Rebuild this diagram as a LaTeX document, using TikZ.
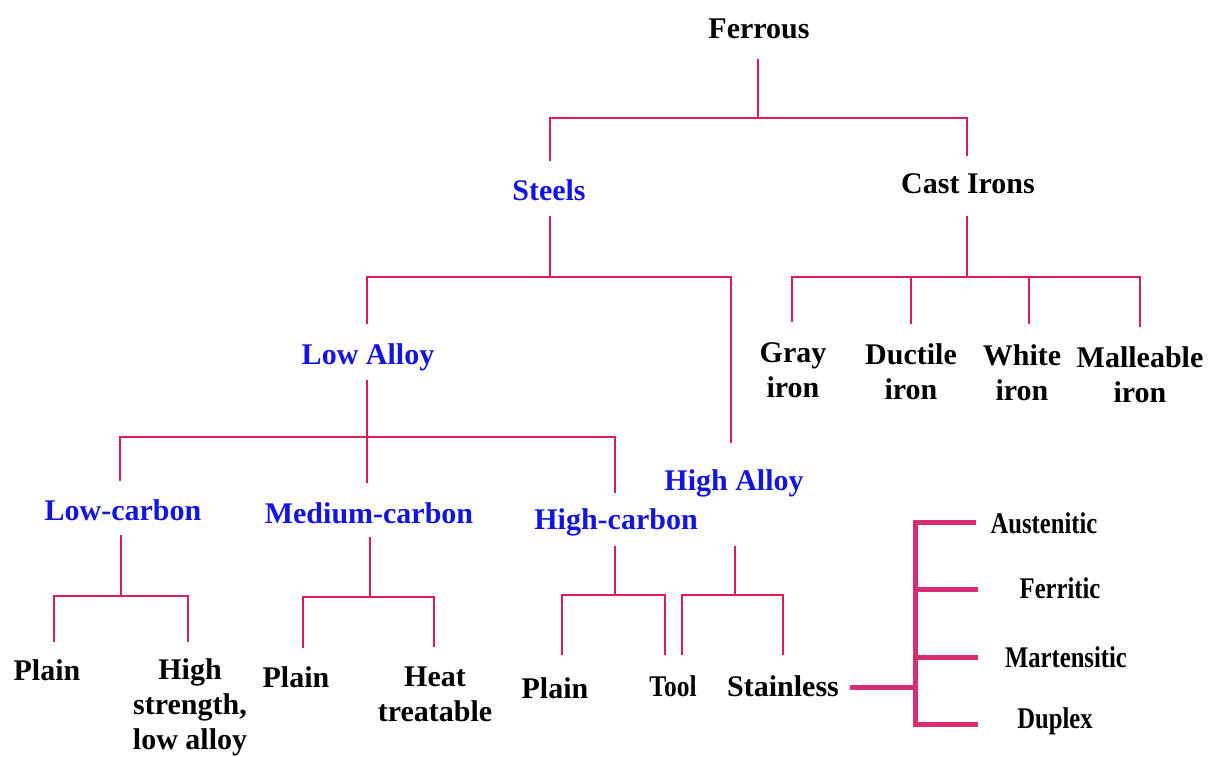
\documentclass[tikz,border=0pt]{standalone}
\usepackage{fontspec}
\setmainfont{Liberation Serif}
\definecolor{linec}{RGB}{220,30,85}
\definecolor{thickc}{RGB}{214,45,115}
\definecolor{bluec}{RGB}{20,20,225}
\tikzset{
  lbl/.style={inner sep=0pt, align=center, font=\fontsize{30}{35}\selectfont\bfseries, text=black},
  blbl/.style={lbl, text=bluec},
  conn/.style={draw=linec, line width=2pt, line cap=butt, line join=miter},
  thickconn/.style={draw=thickc, line width=5pt, line cap=butt, line join=miter}
}
\newcommand{\cnd}[1]{\scalebox{0.82}[1]{#1}}
\begin{document}
\begin{tikzpicture}[x=1pt,y=-1pt]
\useasboundingbox (0,0) rectangle (1208,757);
% nodes
\node[lbl]  (ferrous) at (759,29) {Ferrous};
\node[blbl] (steels)  at (549,190) {Steels};
\node[lbl]  (cast)    at (968,184) {Cast Irons};
\node[blbl] (lowalloy) at (368,357) {Low Alloy};
\node[blbl] (highalloy) at (734,483) {High Alloy};
\node[lbl]  (gray) at (793,370) {Gray\\iron};
\node[lbl]  (ductile) at (911,372) {Ductile\\iron};
\node[lbl]  (white) at (1022,373) {White\\iron};
\node[lbl]  (malleable) at (1140,375) {Malleable\\iron};
\node[blbl] (lowc) at (123,510) {Low-carbon};
\node[blbl] (medc) at (369,513) {Medium-carbon};
\node[blbl] (highc) at (616,522) {High-carbon};
\node[lbl]  (plain1) at (47,670) {Plain};
\node[lbl]  (hsla) at (190,707) {High\\strength,\\low alloy};
\node[lbl]  (plain2) at (296,677) {Plain};
\node[lbl]  (heat) at (435,694) {Heat\\treatable};
\node[lbl]  (plain3) at (555,688) {Plain};
\node[lbl]  (tool) at (673,686) {\scalebox{0.85}[1]{Tool}};
\node[lbl]  (stainless) at (783,686) {Stainless};
\node[lbl]  (aus) at (1044,523) {\cnd{Austenitic}};
\node[lbl]  (fer) at (1060,588) {\cnd{Ferritic}};
\node[lbl]  (mar) at (1066,657) {\cnd{Martensitic}};
\node[lbl]  (dup) at (1055,721) {\cnd{Duplex}};
% junction / end coordinates
\coordinate (f1) at (758,59);  \coordinate (f2) at (758,118);
\coordinate (s0) at (550,161); \coordinate (s1) at (550,118);
\coordinate (c0) at (967,156); \coordinate (c1) at (967,118);
% Ferrous
\draw[conn] (f1) -- (f2);
\draw[conn] (s0) -- (s1) -- (c1) -- (c0);
% Steels
\coordinate (st1) at (550,216); \coordinate (st2) at (550,277);
\coordinate (la0) at (367,324); \coordinate (la1) at (367,277);
\coordinate (ha1) at (731,277); \coordinate (ha0) at (731,443);
\draw[conn] (st1) -- (st2);
\draw[conn] (la0) -- (la1) -- (ha1) -- (ha0);
% Cast irons
\coordinate (ci1) at (967,216); \coordinate (ci2) at (967,277);
\coordinate (g1) at (792,277);  \coordinate (g0) at (792,322);
\coordinate (d1) at (911,277);  \coordinate (d0) at (911,324);
\coordinate (w1) at (1029,277); \coordinate (w0) at (1029,324);
\coordinate (m1) at (1140,277); \coordinate (m0) at (1140,327);
\draw[conn] (ci1) -- (ci2);
\draw[conn] (g0) -- (g1) -- (m1) -- (m0);
\draw[conn] (d1) -- (d0);
\draw[conn] (w1) -- (w0);
% Low alloy
\coordinate (lo1) at (367,380); \coordinate (lo2) at (367,437);
\coordinate (lc1) at (120,437); \coordinate (lc0) at (120,481);
\coordinate (hc1) at (615,437); \coordinate (hc0) at (615,493);
\coordinate (mc0) at (367,483);
\draw[conn] (lo1) -- (lo2);
\draw[conn] (lc0) -- (lc1) -- (hc1) -- (hc0);
\draw[conn] (lo2) -- (mc0);
% Low carbon
\coordinate (a1) at (121,535); \coordinate (a2) at (121,596);
\coordinate (a3) at (54,596);  \coordinate (a4) at (54,642);
\coordinate (a5) at (188,596); \coordinate (a6) at (188,642);
\draw[conn] (a1) -- (a2);
\draw[conn] (a4) -- (a3) -- (a5) -- (a6);
% Medium carbon
\coordinate (b1) at (370,537); \coordinate (b2) at (370,597);
\coordinate (b3) at (303,597); \coordinate (b4) at (303,648);
\coordinate (b5) at (434,597); \coordinate (b6) at (434,647);
\draw[conn] (b1) -- (b2);
\draw[conn] (b4) -- (b3) -- (b5) -- (b6);
% High carbon
\coordinate (h1) at (615,546); \coordinate (h2) at (615,595);
\coordinate (h3) at (562,595); \coordinate (h4) at (562,655);
\coordinate (h5) at (665,595); \coordinate (h6) at (665,655);
\draw[conn] (h1) -- (h2);
\draw[conn] (h4) -- (h3) -- (h5) -- (h6);
% High alloy
\coordinate (k1) at (735,546); \coordinate (k2) at (735,595);
\coordinate (k3) at (682,595); \coordinate (k4) at (682,655);
\coordinate (k5) at (783,595); \coordinate (k6) at (783,655);
\draw[conn] (k1) -- (k2);
\draw[conn] (k4) -- (k3) -- (k5) -- (k6);
% Stainless bracket
\coordinate (sb0) at (850,687); \coordinate (sb1) at (915,687);
\coordinate (v1) at (915,519.5); \coordinate (v2) at (915,726.5);
\coordinate (r1) at (915,522); \coordinate (e1) at (976,522);
\coordinate (r2) at (915,589); \coordinate (e2) at (978,589);
\coordinate (r3) at (915,657); \coordinate (e3) at (978,657);
\coordinate (r4) at (915,724); \coordinate (e4) at (978,724);
\draw[thickconn] (sb0) -- (sb1);
\draw[thickconn] (v1) -- (v2);
\draw[thickconn] (r1) -- (e1);
\draw[thickconn] (r2) -- (e2);
\draw[thickconn] (r3) -- (e3);
\draw[thickconn] (r4) -- (e4);
\end{tikzpicture}
\end{document}
